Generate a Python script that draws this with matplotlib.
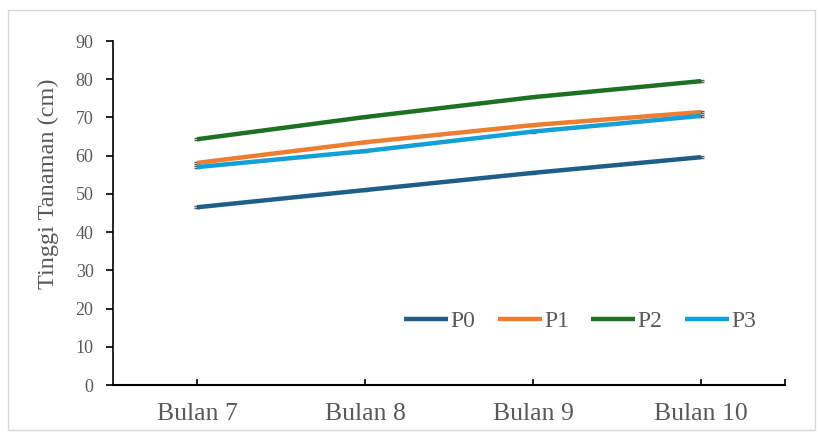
import matplotlib.pyplot as plt
from matplotlib.patches import Rectangle

bulan = ['Bulan 7', 'Bulan 8', 'Bulan 9', 'Bulan 10']
p0 = [46.5, 51.0, 55.5, 59.6]
p1 = [58.1, 63.5, 68.0, 71.4]
p2 = [64.3, 70.1, 75.3, 79.5]
p3 = [57.0, 61.2, 66.3, 70.4]

series = {'P0': (p0, '#1f5f87'), 'P1': (p1, '#ed7d31'),
          'P2': (p2, '#1e7123'), 'P3': (p3, '#12a0d7')}

plt.rcParams['font.family'] = ['Liberation Serif', 'DejaVu Serif']

fig = plt.figure(figsize=(8.2, 4.36), dpi=100)
ax = fig.add_axes([113/820, 1-385/436, 672/820, 344/436])

# thin grey frame around the whole chart
fig.patches.append(Rectangle((8/820, 6/436), 807/820, 420/436, transform=fig.transFigure,
                             fill=False, edgecolor='#d9d9d9', lw=1))

x = list(range(len(bulan)))
for name, (vals, col) in series.items():
    ax.errorbar(x, vals, yerr=0.3, color=col, lw=3.2, label=name,
                ecolor='#595959', elinewidth=0.8, capsize=2, solid_capstyle='butt')

ax.set_xlim(-0.5, 3.5)
ax.set_ylim(0, 90)
ax.set_yticks(range(0, 91, 10))
ax.set_xticks(x + [3.5])
ax.set_xticklabels(bulan + [''])
ax.tick_params(axis='x', direction='in', length=4, width=1.2, labelsize=18.5,
               labelcolor='#595959', pad=13)
ax.tick_params(axis='y', direction='out', length=5, width=1.2, labelsize=13,
               labelcolor='#595959', pad=9)
ax.spines['top'].set_visible(False)
ax.spines['right'].set_visible(False)
ax.spines['left'].set_linewidth(1.2)
ax.spines['bottom'].set_linewidth(1.5)
ax.set_ylabel('Tinggi Tanaman (cm)', fontsize=17.5, color='#595959')
ax.yaxis.set_label_coords(-0.08, 0.585)

handles, labels = ax.get_legend_handles_labels()
handles = [h[0] for h in handles]
ax.legend(handles, labels, loc='center', bbox_to_anchor=(0.695, 0.186), ncol=4, frameon=False,
          fontsize=17, handlelength=1.86, handletextpad=0.1, columnspacing=0.95,
          labelcolor='#595959')

fig.savefig('out.png', dpi=100)
